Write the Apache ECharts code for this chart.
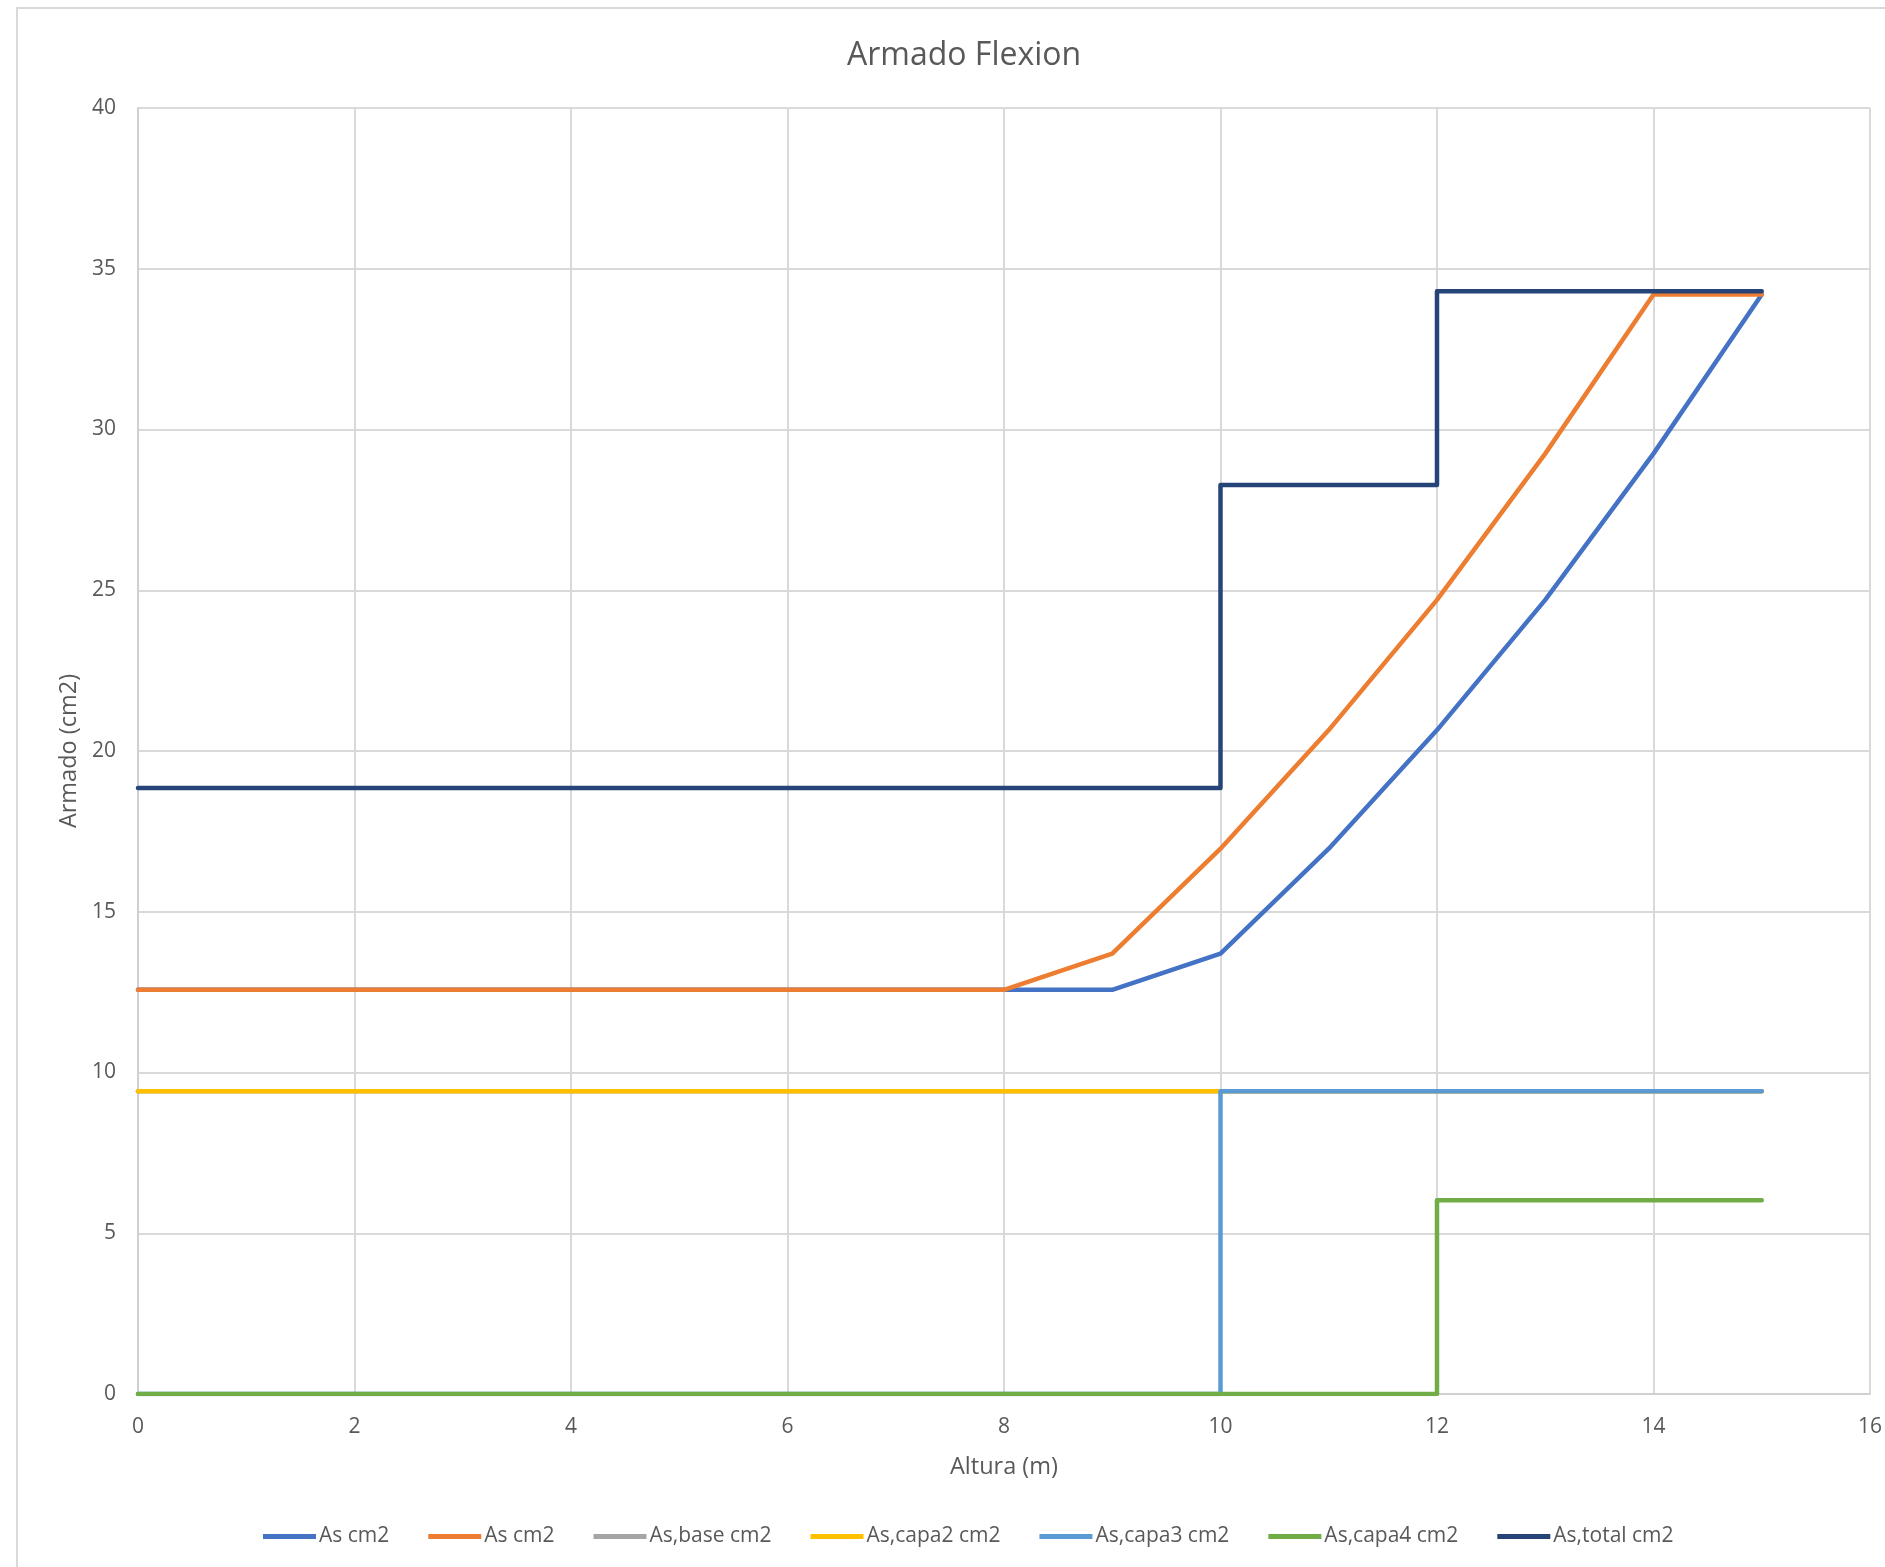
<!DOCTYPE html>
<html>
<head>
<meta charset="utf-8">
<title>Armado Flexion</title>
<script src="https://cdn.jsdelivr.net/npm/echarts@6/dist/echarts.min.js"></script>
<style>
  html, body { margin: 0; padding: 0; background: #ffffff; }
  #chart { width: 1885px; height: 1567px; }
</style>
</head>
<body>
<div id="chart"></div>
<script>
// Alturas (m) y armados (cm2) por serie
const alturaCurva = [0, 1, 2, 3, 4, 5, 6, 7, 8, 9, 10, 11, 12, 13, 14, 15];
const asCm2A = [12.57, 12.57, 12.57, 12.57, 12.57, 12.57, 12.57, 12.57, 12.57, 12.57, 13.7, 16.96, 20.65, 24.7, 29.25, 34.2];
const asCm2B = [12.57, 12.57, 12.57, 12.57, 12.57, 12.57, 12.57, 12.57, 12.57, 13.7, 16.96, 20.65, 24.7, 29.25, 34.2, 34.2];

const alturaBase = [0, 15];
const asBase = [9.42, 9.42];

const alturaCapa2 = [0, 15];
const asCapa2 = [9.42, 9.42];

const alturaCapa3 = [0, 10, 10, 15];
const asCapa3 = [0, 0, 9.42, 9.42];

const alturaCapa4 = [0, 12, 12, 15];
const asCapa4 = [0, 0, 6.03, 6.03];

const alturaTotal = [0, 10, 10, 12, 12, 15];
const asTotal = [18.85, 18.85, 28.27, 28.27, 34.3, 34.3];

const xTicks = { min: 0, max: 16, interval: 2 };
const yTicks = { min: 0, max: 40, interval: 5 };

const pares = (xs, ys) => xs.map((x, i) => [x, ys[i]]);

const seriesDefs = [
  { name: 'As cm2', x: alturaCurva, y: asCm2A, color: '#4472C4' },
  { name: 'As cm2 ', x: alturaCurva, y: asCm2B, color: '#ED7D31' },
  { name: 'As,base cm2', x: alturaBase, y: asBase, color: '#A5A5A5' },
  { name: 'As,capa2 cm2', x: alturaCapa2, y: asCapa2, color: '#FFC000' },
  { name: 'As,capa3 cm2', x: alturaCapa3, y: asCapa3, color: '#5B9BD5' },
  { name: 'As,capa4 cm2', x: alturaCapa4, y: asCapa4, color: '#70AD47' },
  { name: 'As,total cm2', x: alturaTotal, y: asTotal, color: '#264478' }
];

const FONT = '"Open Sans", "Noto Sans", sans-serif';
const chart = echarts.init(document.getElementById('chart'), null, { renderer: 'canvas' });

chart.setOption({
  backgroundColor: '#ffffff',
  animation: false,
  textStyle: { fontFamily: FONT },
  graphic: [
    {
      type: 'rect',
      shape: { x: 17, y: 8, width: 3000, height: 3000 },
      style: { fill: 'none', stroke: '#d9d9d9', lineWidth: 2 },
      silent: true
    },
    {
      // chart title
      type: 'text',
      left: 847,
      top: 40,
      style: {
        text: 'Armado Flexion',
        x: 0, y: 0,
        font: 'normal 32px ' + FONT,
        fill: '#595959'
      },
      silent: true
    }
  ],
  grid: { left: 138, right: 14, top: 108, bottom: 173, containLabel: false },
  legend: {
    bottom: 15,
    left: 258,
    itemWidth: 53,
    itemHeight: 5,
    itemGap: 39,
    icon: 'rect',
    textStyle: { fontFamily: FONT, fontSize: 21, color: '#595959', padding: [0, 0, 0, -2] },
    formatter: (n) => n.trim()
  },
  xAxis: {
    type: 'value',
    min: xTicks.min,
    max: xTicks.max,
    interval: xTicks.interval,
    name: 'Altura (m)',
    nameLocation: 'middle',
    nameGap: 61,
    nameTextStyle: { fontFamily: FONT, fontSize: 23.5, color: '#595959' },
    axisLine: { show: true, lineStyle: { color: '#d0d0d0', width: 2 } },
    axisTick: { show: false },
    axisLabel: { margin: 23, fontFamily: FONT, fontSize: 21, color: '#595959' },
    splitLine: { show: true, lineStyle: { color: '#d9d9d9', width: 2 } }
  },
  yAxis: {
    type: 'value',
    min: yTicks.min,
    max: yTicks.max,
    interval: yTicks.interval,
    name: 'Armado (cm2)',
    nameLocation: 'middle',
    nameGap: 57,
    nameTextStyle: { fontFamily: FONT, fontSize: 23.5, color: '#595959' },
    axisLine: { show: true, lineStyle: { color: '#d0d0d0', width: 2 } },
    axisTick: { show: false },
    axisLabel: { margin: 22, fontFamily: FONT, fontSize: 21, color: '#595959', padding: [9, 0, 0, 0] },
    splitLine: { show: true, lineStyle: { color: '#d9d9d9', width: 2 } }
  },
  series: seriesDefs.map((s) => ({
    name: s.name,
    type: 'line',
    data: pares(s.x, s.y),
    showSymbol: false,
    symbol: 'none',
    color: s.color,
    lineStyle: { color: s.color, width: 4.5, cap: 'round', join: 'round' },
    emphasis: { disabled: true }
  }))
});
</script>
</body>
</html>
